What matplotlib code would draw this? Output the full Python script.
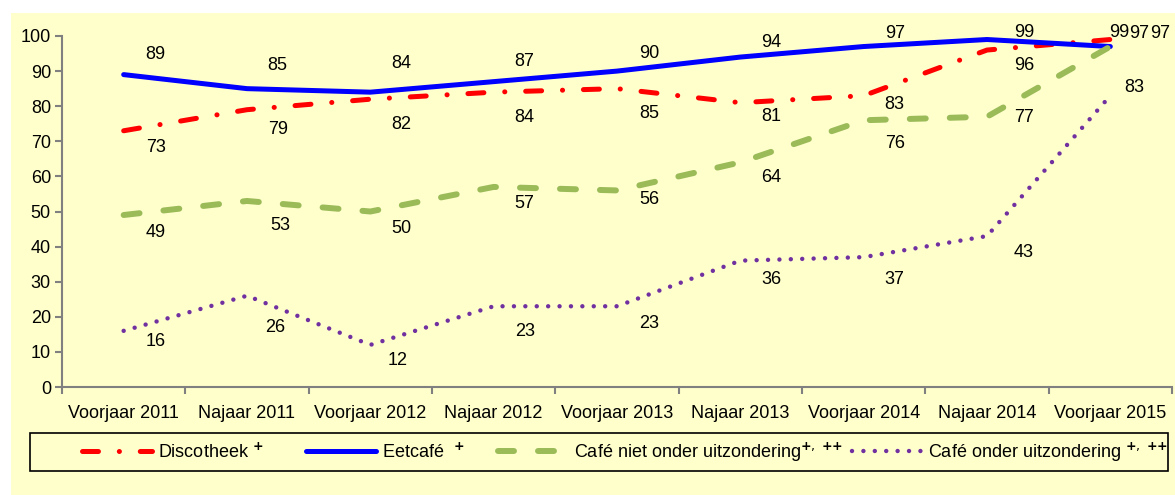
import matplotlib
matplotlib.use('Agg')
import matplotlib.pyplot as plt
from matplotlib.patches import Rectangle

plt.rcParams['font.family'] = ['Liberation Sans', 'DejaVu Sans']
plt.rcParams['lines.scale_dashes'] = False

periods = ['Voorjaar 2011', 'Najaar 2011', 'Voorjaar 2012', 'Najaar 2012', 'Voorjaar 2013',
           'Najaar 2013', 'Voorjaar 2014', 'Najaar 2014', 'Voorjaar 2015']
discotheek = [73, 79, 82, 84, 85, 81, 83, 96, 99]
eetcafe = [89, 85, 84, 87, 90, 94, 97, 99, 97]
cafe_niet_onder = [49, 53, 50, 57, 56, 64, 76, 77, 97]
cafe_onder = [16, 26, 12, 23, 23, 36, 37, 43, 83]

# label offsets in pixels (dx, dy), dy positive = downwards
off_disco = [(32, 17), (31, 20), (31, 25), (31, 25), (32, 25), (31, 14), (31, 9), (37, 15), (9, -7)]
off_eet = [(32, -20), (30, -23), (31, -29), (31, -20), (32, -18), (31, -15), (31, -13), (37, -7), (29, -13)]
off_niet = [(32, 17), (33, 25), (31, 17), (31, 17), (32, 9), (31, 15), (31, 23), (37, 1), (50, -13)]
off_onder = [(32, 11), (28, 32), (27, 16), (31, 25), (32, 17), (31, 19), (31, 22), (37, 16), (24, -8)]

yellow = '#FFFFCC'
W, H = 1175, 495
fig = plt.figure(figsize=(W / 100, H / 100), dpi=100, facecolor='white')
fig.patches.append(Rectangle((11 / W, 0), 1 - 11 / W, 1 - 13 / H, transform=fig.transFigure,
                             facecolor=yellow, edgecolor='none', zorder=-5))

ax = fig.add_axes([62 / W, 1 - 387 / H, 1110 / W, 351 / H])
ax.patch.set_visible(False)

x = list(range(len(periods)))
l1, = ax.plot(x, discotheek, color='#FF0000', lw=3.6, solid_capstyle='round',
              dash_capstyle='round', dashes=(11.5, 15, 0.1, 15))
l2, = ax.plot(x, eetcafe, color='#0000FF', lw=3.6, solid_capstyle='round')
l3, = ax.plot(x, cafe_niet_onder, color='#9BBB59', lw=4.3, dash_capstyle='round',
              dashes=(11.5, 17.3))
l4, = ax.plot(x, cafe_onder, color='#7030A0', lw=3.2, dash_capstyle='round',
              dashes=(0.01, 8.2))

for series, offs in [(discotheek, off_disco), (eetcafe, off_eet),
                     (cafe_niet_onder, off_niet), (cafe_onder, off_onder)]:
    for i, v in enumerate(series):
        dx, dy = offs[i]
        ax.annotate(str(v), (i, v), xytext=(dx, -dy), textcoords='offset pixels',
                    ha='center', va='center', fontsize=13, color='black')

ax.set_xlim(-0.5, len(periods) - 0.5)
ax.set_ylim(0, 100)
ax.set_yticks(range(0, 101, 10))
ax.set_xticks(x)
ax.set_xticklabels(periods)
ax.set_xticks([i - 0.5 for i in range(len(periods) + 1)], minor=True)
ax.tick_params(axis='x', which='major', length=0, labelsize=13, pad=13)
ax.tick_params(axis='x', which='minor', length=5, color='#808080', width=1.5)
ax.tick_params(axis='y', length=5, color='#808080', width=1.5, labelsize=13, pad=3)
for s in ['top', 'right']:
    ax.spines[s].set_visible(False)
for s in ['left', 'bottom']:
    ax.spines[s].set_color('#808080')
    ax.spines[s].set_linewidth(1.5)

# legend box
fig.patches.append(Rectangle((30 / W, 1 - 471 / H), 1138 / W, 38 / H, transform=fig.transFigure,
                             facecolor='none', edgecolor='black', lw=1.2, zorder=1))

sup1 = r'$^{\mathbf{+}}$'
sup2 = r'$^{\mathbf{+},\ {\mathbf{+}}{\mathbf{+}}}$'
entries = [(l1, 'Discotheek ' + sup1, 82), (l2, 'Eetcafé  ' + sup1, 306),
           (l3, 'Café niet onder uitzondering' + sup2, 498),
           (l4, 'Café onder uitzondering ' + sup2, 852)]
for line, label, xpos in entries:
    fig.legend([line], [label], loc='center left', bbox_to_anchor=(xpos / W, 1 - 452 / H),
               fontsize=13, handlelength=3.9, handletextpad=0.3, borderpad=0,
               borderaxespad=0, frameon=False)

fig.savefig('out.png', dpi=100, facecolor='white')
